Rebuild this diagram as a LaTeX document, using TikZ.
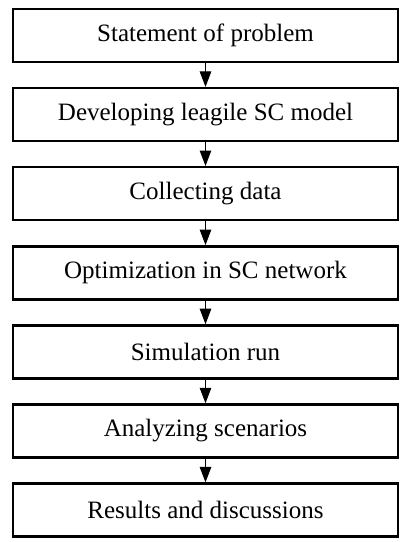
\documentclass[tikz,border=0pt]{standalone}
\usepackage{fontspec}
\setmainfont{Liberation Serif}
\usetikzlibrary{arrows.meta}
\begin{document}
\begin{tikzpicture}[x=1pt,y=-1pt,
  stepbox/.style={draw=black, line width=2.4pt, rectangle,
    minimum width=385pt, minimum height=53pt, inner sep=0pt,
    font=\fontsize{25}{29}\selectfont},
  flow/.style={line width=1.1pt,
    -{Triangle[width=11.5pt,length=15.5pt]}}]
  \useasboundingbox (0,0) rectangle (408,542);
  \fill[white] (0,0) rectangle (408,542);
  % process steps, top to bottom
  \node[stepbox] (s1) at (205.5,35.5)  {Statement of problem};
  \node[stepbox] (s2) at (205.5,114.6) {Developing leagile SC model};
  \node[stepbox] (s3) at (205.5,193.7) {Collecting data};
  \node[stepbox] (s4) at (205.5,272.8) {Optimization in SC network};
  \node[stepbox] (s5) at (205.5,351.9) {Simulation run};
  \node[stepbox] (s6) at (205.5,431.0) {Analyzing scenarios};
  \node[stepbox] (s7) at (205.5,510.1) {Results and discussions};
  % connectors
  \foreach \a/\b in {s1/s2,s2/s3,s3/s4,s4/s5,s5/s6,s6/s7}
    \draw[flow] (\a.south) -- (\b.north);
\end{tikzpicture}
\end{document}
